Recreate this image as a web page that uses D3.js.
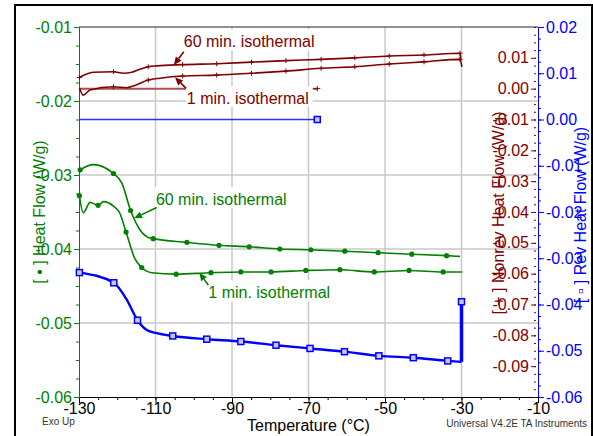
<!DOCTYPE html>
<html>
<head>
<meta charset="utf-8">
<script src="https://cdn.jsdelivr.net/npm/d3@7"></script>
<style>
  body { margin: 0; background: #fff; }
  svg text { font-family: "Liberation Sans", Arial, sans-serif; }
</style>
</head>
<body>
<div id="chart"></div>
<script>
// tick values for the four axes
let tempTicks = [-130, -110, -90, -70, -50, -30, -10];
let heatTicks = [-0.06, -0.05, -0.04, -0.03, -0.02, -0.01];
let nonrevTicks = [-0.09, -0.08, -0.07, -0.06, -0.05, -0.04, -0.03, -0.02, -0.01, 0.00, 0.01];
let revTicks = [-0.06, -0.05, -0.04, -0.03, -0.02, -0.01, 0.00, 0.01, 0.02];

// Heat Flow, 60 min. isothermal (green, left axis)
let hf60Temp = [-129.7, -126.3, -121.0, -118.8, -116.5, -114.2, -112.1, -110.6, -101.8, -93.4, -85.5, -77.5, -69.4, -60.5, -51.8, -43.0, -33.9, -30.4];
let hf60Val = [-0.0293, -0.0286, -0.0298, -0.0311, -0.0348, -0.0373, -0.0384, -0.0386, -0.0391, -0.0395, -0.0397, -0.0400, -0.0401, -0.0403, -0.0405, -0.0407, -0.0409, -0.0410];
let hf60Dots = [0, 2, 4, 7, 8, 9, 10, 11, 12, 13, 14, 15, 16];

// Heat Flow, 1 min. isothermal
let hf1Temp = [-129.9, -128.9, -127.1, -125.0, -123.6, -121.0, -119.3, -117.7, -115.4, -113.6, -111.0, -104.6, -95.5, -87.7, -79.8, -70.7, -61.8, -52.8, -43.7, -34.8, -29.8];
let hf1Val = [-0.0328, -0.0351, -0.0337, -0.0341, -0.0336, -0.0342, -0.0352, -0.0377, -0.0413, -0.0425, -0.0432, -0.0434, -0.0432, -0.0431, -0.0431, -0.0429, -0.0428, -0.0431, -0.0429, -0.0431, -0.0431];
let hf1Dots = [0, 3, 7, 9, 11, 12, 13, 14, 15, 16, 17, 18, 19];

// Rev Heat Flow (blue, outer right axis)
let revTemp = [-129.9, -120.9, -117.5, -114.7, -112.3, -109.7, -105.5, -96.6, -87.7, -78.5, -69.6, -60.6, -51.6, -42.6, -33.6, -30.0];
let revVal = [-0.0331, -0.0353, -0.0390, -0.0434, -0.0455, -0.0462, -0.0468, -0.0475, -0.0480, -0.0488, -0.0495, -0.0502, -0.0511, -0.0515, -0.0522, -0.0524];
let revDots = [0, 1, 3, 6, 7, 8, 9, 10, 11, 12, 13, 14];
let revJumpVal = -0.0394;
let revIsoTemp = [-130, -67.7];
let revIsoVal = [0.0, 0.0];

// Nonrev Heat Flow (dark red, inner right axis)
let nr60Temp = [-129.9, -126.3, -121.0, -118.4, -116.2, -114.1, -111.9, -109.7, -102.9, -94.0, -84.9, -75.9, -66.7, -57.9, -48.9, -39.8, -30.4, -30.2];
let nr60Val = [0.0036, 0.0053, 0.0055, 0.0050, 0.0053, 0.0063, 0.0071, 0.0074, 0.0078, 0.0081, 0.0086, 0.0091, 0.0095, 0.0100, 0.0106, 0.0109, 0.0115, 0.0095];
let nr60Marks = [0, 2, 6, 8, 9, 10, 11, 12, 13, 14, 15, 16];
let nr1Temp = [-129.9, -128.9, -127.1, -121.0, -117.5, -115.8, -111.9, -108.8, -102.9, -94.0, -84.9, -75.9, -66.7, -57.9, -48.9, -39.8, -30.4, -29.9];
let nr1Val = [0.0003, -0.0021, -0.0004, 0.0006, 0.0003, 0.0009, 0.0028, 0.0034, 0.0041, 0.0044, 0.0050, 0.0057, 0.0066, 0.0071, 0.0080, 0.0087, 0.0095, 0.0071];
let nr1Marks = [3, 6, 8, 9, 10, 11, 12, 13, 14, 15, 16];
let nrIsoTemp = [-130, -67.7];
let nrIsoVal = [0.0, 0.0];

let green = "#008000", darkRed = "#800000", blue = "#0000ff";

let svg = d3.select("#chart").append("svg")
    .attr("width", 593)
    .attr("height", 436);

let x = d3.scaleLinear().domain([-130, -10]).range([79, 538]);
let yHeat = d3.scaleLinear().domain([-0.06, -0.01]).range([397, 27]);
let yNon = d3.scaleLinear().domain([-0.10, 0.02]).range([397, 27]);
let yRev = d3.scaleLinear().domain([-0.06, 0.02]).range([397, 27]);

function fmt(d) {
    return Math.abs(d) < 1e-9 ? "0.00" : d.toFixed(2);
}
function zip(ts, vs) {
    return ts.map(function (t, i) { return [t, vs[i]]; });
}

// outer frame
svg.append("rect")
    .attr("x", 15).attr("y", 5)
    .attr("width", 577).attr("height", 440)
    .attr("fill", "none").attr("stroke", "#000").attr("stroke-width", 2);

// grid
svg.append("g").selectAll("line")
    .data(tempTicks.slice(1, -1))
    .enter().append("line")
    .attr("x1", d => x(d)).attr("x2", d => x(d))
    .attr("y1", yHeat(-0.01)).attr("y2", yHeat(-0.06))
    .attr("stroke", "#c8c8c8").attr("stroke-width", 1.5);
svg.append("g").selectAll("line")
    .data(heatTicks.slice(1, -1))
    .enter().append("line")
    .attr("x1", x(-130)).attr("x2", x(-10))
    .attr("y1", d => yHeat(d)).attr("y2", d => yHeat(d))
    .attr("stroke", "#c8c8c8").attr("stroke-width", 1.5);

// top border of plot
svg.append("line")
    .attr("x1", x(-130)).attr("x2", x(-10))
    .attr("y1", yHeat(-0.01)).attr("y2", yHeat(-0.01))
    .attr("stroke", "#222").attr("stroke-width", 1);

function styleAxis(g, color) {
    g.attr("font-size", null).attr("font-family", null);
    g.selectAll(".domain").attr("stroke", color);
    g.selectAll(".tick line").attr("stroke", color);
    g.selectAll(".tick text").attr("fill", color).style("font-size", "16px");
}

// minor tick positions
let heatMinor = d3.range(0, 21).map(i => -0.06 + i * 0.0025);
let nonMinor = d3.range(0, 49).map(i => -0.10 + i * 0.0025);
let revMinor = d3.range(0, 33).map(i => -0.06 + i * 0.0025);
let tempMinor = d3.range(0, 25).map(i => -130 + i * 5);

// x axis
let gx = svg.append("g").attr("transform", "translate(0," + yHeat(-0.06) + ")");
gx.append("g").call(d3.axisBottom(x).tickValues(tempMinor).tickSize(3).tickFormat("").tickSizeOuter(0))
    .call(g => styleAxis(g, "#000"));
gx.append("g").call(d3.axisBottom(x).tickValues(tempTicks).tickSize(6).tickPadding(0).tickSizeOuter(0).tickFormat(d => String(d)))
    .call(g => styleAxis(g, "#000"));

// left axis (Heat Flow)
let gl = svg.append("g").attr("transform", "translate(" + x(-130) + ",0)");
gl.append("g").call(d3.axisLeft(yHeat).tickValues(heatMinor).tickSize(3).tickFormat("").tickSizeOuter(0))
    .call(g => styleAxis(g, green));
gl.append("g").call(d3.axisLeft(yHeat).tickValues(heatTicks).tickSize(5).tickPadding(2).tickSizeOuter(0).tickFormat(fmt))
    .call(g => styleAxis(g, green));

// inner right axis (Nonrev)
let gn = svg.append("g").attr("transform", "translate(536,0)");
gn.append("g").call(d3.axisLeft(yNon).tickValues(nonMinor).tickSize(2).tickFormat("").tickSizeOuter(0))
    .call(g => styleAxis(g, darkRed)).call(g => g.select(".domain").remove());
gn.append("g").call(d3.axisLeft(yNon).tickValues(nonrevTicks).tickSize(5).tickPadding(2).tickSizeOuter(0).tickFormat(fmt))
    .call(g => styleAxis(g, darkRed)).call(g => g.select(".domain").remove());

// outer right axis (Rev)
let gr = svg.append("g").attr("transform", "translate(" + x(-10) + ",0)");
gr.append("g").call(d3.axisRight(yRev).tickValues(revMinor).tickSize(3).tickFormat("").tickSizeOuter(0))
    .call(g => styleAxis(g, blue));
gr.append("g").call(d3.axisRight(yRev).tickValues(revTicks).tickSize(6).tickPadding(2).tickSizeOuter(0).tickFormat(fmt))
    .call(g => styleAxis(g, blue));

// isothermal flat segments
let flat = function (ys) {
    return d3.line().x(d => x(d[0])).y(d => ys(d[1]));
};
svg.append("path")
    .attr("d", flat(yNon)(zip(nrIsoTemp, nrIsoVal)))
    .attr("fill", "none").attr("stroke", "#a85050").attr("stroke-width", 2);
svg.append("path")
    .attr("d", flat(yRev)(zip(revIsoTemp, revIsoVal)))
    .attr("fill", "none").attr("stroke", "#3030ff").attr("stroke-width", 1.5);

function curve(ys) {
    return d3.line().x(d => x(d[0])).y(d => ys(d[1])).curve(d3.curveMonotoneX);
}

// Nonrev curves
[[nr60Temp, nr60Val, nr60Marks], [nr1Temp, nr1Val, nr1Marks]].forEach(function (s) {
    let pts = zip(s[0], s[1]);
    svg.append("path")
        .attr("d", curve(yNon)(pts))
        .attr("fill", "none").attr("stroke", darkRed).attr("stroke-width", 1.6);
    svg.append("g").selectAll("path")
        .data(s[2].map(i => pts[i]))
        .enter().append("path")
        .attr("d", d => {
            let cx = x(d[0]), cy = yNon(d[1]);
            return "M" + (cx - 2.5) + "," + cy + "H" + (cx + 2.5) + "M" + cx + "," + (cy - 2.5) + "V" + (cy + 2.5);
        })
        .attr("stroke", darkRed).attr("stroke-width", 1);
});
// cross at end of nonrev isothermal segment
svg.append("path")
    .attr("d", () => {
        let cx = x(nrIsoTemp[1]), cy = yNon(nrIsoVal[1]);
        return "M" + (cx - 4) + "," + cy + "H" + (cx + 3) + "M" + cx + "," + (cy - 2.5) + "V" + (cy + 2.5);
    })
    .attr("stroke", darkRed).attr("stroke-width", 1);

// Heat Flow curves
[[hf60Temp, hf60Val, hf60Dots], [hf1Temp, hf1Val, hf1Dots]].forEach(function (s) {
    let pts = zip(s[0], s[1]);
    svg.append("path")
        .attr("d", curve(yHeat)(pts))
        .attr("fill", "none").attr("stroke", green).attr("stroke-width", 1.6);
    svg.append("g").selectAll("circle")
        .data(s[2].map(i => pts[i]))
        .enter().append("circle")
        .attr("cx", d => x(d[0])).attr("cy", d => yHeat(d[1]))
        .attr("r", 2.6).attr("fill", green);
});

// Rev curve
let revPts = zip(revTemp, revVal);
svg.append("path")
    .attr("d", curve(yRev)(revPts))
    .attr("fill", "none").attr("stroke", blue).attr("stroke-width", 2.4);
let lastRev = revPts[revPts.length - 1];
svg.append("line")
    .attr("x1", x(lastRev[0])).attr("x2", x(lastRev[0]))
    .attr("y1", yRev(lastRev[1])).attr("y2", yRev(revJumpVal))
    .attr("stroke", blue).attr("stroke-width", 3.5);
let revSquares = revDots.map(i => revPts[i])
    .concat([[lastRev[0], revJumpVal], [revIsoTemp[1], revIsoVal[1]]]);
svg.append("g").selectAll("rect")
    .data(revSquares)
    .enter().append("rect")
    .attr("x", d => x(d[0]) - 3).attr("y", d => yRev(d[1]) - 3)
    .attr("width", 6).attr("height", 6)
    .attr("fill", "#c8c8ff").attr("stroke", blue).attr("stroke-width", 1.5);

// annotations: label position and arrow, in data units of their own axis
let notes = [
    { text: "60 min. isothermal", color: darkRed, ys: yNon, t: -102.6, v: 0.0134, from: [-102.6, 0.0120], to: [-105.2, 0.0077] },
    { text: "1 min. isothermal", color: darkRed, ys: yNon, t: -101.8, v: -0.0050, from: [-102.0, 0.0001], to: [-104.9, 0.0037] },
    { text: "60 min. isothermal", color: green, ys: yHeat, t: -109.9, v: -0.03405, from: [-109.7, -0.0344], to: [-115.6, -0.03585] },
    { text: "1 min. isothermal", color: green, ys: yHeat, t: -96.2, v: -0.04666, from: [-96.2, -0.04486], to: [-98.55, -0.0432] }
];

notes.forEach(function (n) {
    let tx = x(n.t), ty = n.ys(n.v);
    let g = svg.append("g");
    let label = g.append("text")
        .attr("x", tx).attr("y", ty)
        .attr("fill", n.color).style("font-size", "16px")
        .text(n.text);
    let w = label.node().getComputedTextLength();
    g.insert("rect", "text")
        .attr("x", tx - 1).attr("y", ty - 18)
        .attr("width", w + 5).attr("height", 21)
        .attr("fill", "#fff");

    let x1 = x(n.from[0]), y1 = n.ys(n.from[1]);
    let x2 = x(n.to[0]), y2 = n.ys(n.to[1]);
    let a = Math.atan2(y2 - y1, x2 - x1);
    let len = 8, hw = 3.5;
    let bx = x2 - len * Math.cos(a), by = y2 - len * Math.sin(a);
    g.append("line")
        .attr("x1", x1).attr("y1", y1).attr("x2", bx).attr("y2", by)
        .attr("stroke", n.color).attr("stroke-width", 1.6);
    g.append("path")
        .attr("d", "M" + x2 + "," + y2 +
            "L" + (bx + hw * Math.sin(a)) + "," + (by - hw * Math.cos(a)) +
            "L" + (bx - hw * Math.sin(a)) + "," + (by + hw * Math.cos(a)) + "Z")
        .attr("fill", n.color);
});

// axis titles
svg.append("text")
    .attr("transform", "translate(45,212) rotate(-90)")
    .attr("text-anchor", "middle").attr("fill", green).style("font-size", "16px")
    .text("[ \u2022 ] Heat Flow (W/g)");
svg.append("text")
    .attr("transform", "translate(504,213) rotate(-90)")
    .attr("text-anchor", "middle").attr("fill", darkRed).style("font-size", "16px")
    .text("[ + ] Nonrev Heat Flow (W/g)");
svg.append("text")
    .attr("transform", "translate(586,215) rotate(-90)")
    .attr("text-anchor", "middle").attr("fill", blue).style("font-size", "16px")
    .text("[ \u25ab ] Rev Heat Flow (W/g)");
svg.append("text")
    .attr("x", (x(-130) + x(-10)) / 2).attr("y", 431)
    .attr("text-anchor", "middle").attr("fill", "#000").style("font-size", "16px")
    .text("Temperature (\u00b0C)");

svg.append("text")
    .attr("x", 42).attr("y", 425)
    .attr("fill", "#333").style("font-size", "10px")
    .text("Exo Up");
svg.append("text")
    .attr("x", 587).attr("y", 426.5)
    .attr("text-anchor", "end").attr("fill", "#333").style("font-size", "10px")
    .text("Universal V4.2E TA Instruments");
</script>
</body>
</html>
